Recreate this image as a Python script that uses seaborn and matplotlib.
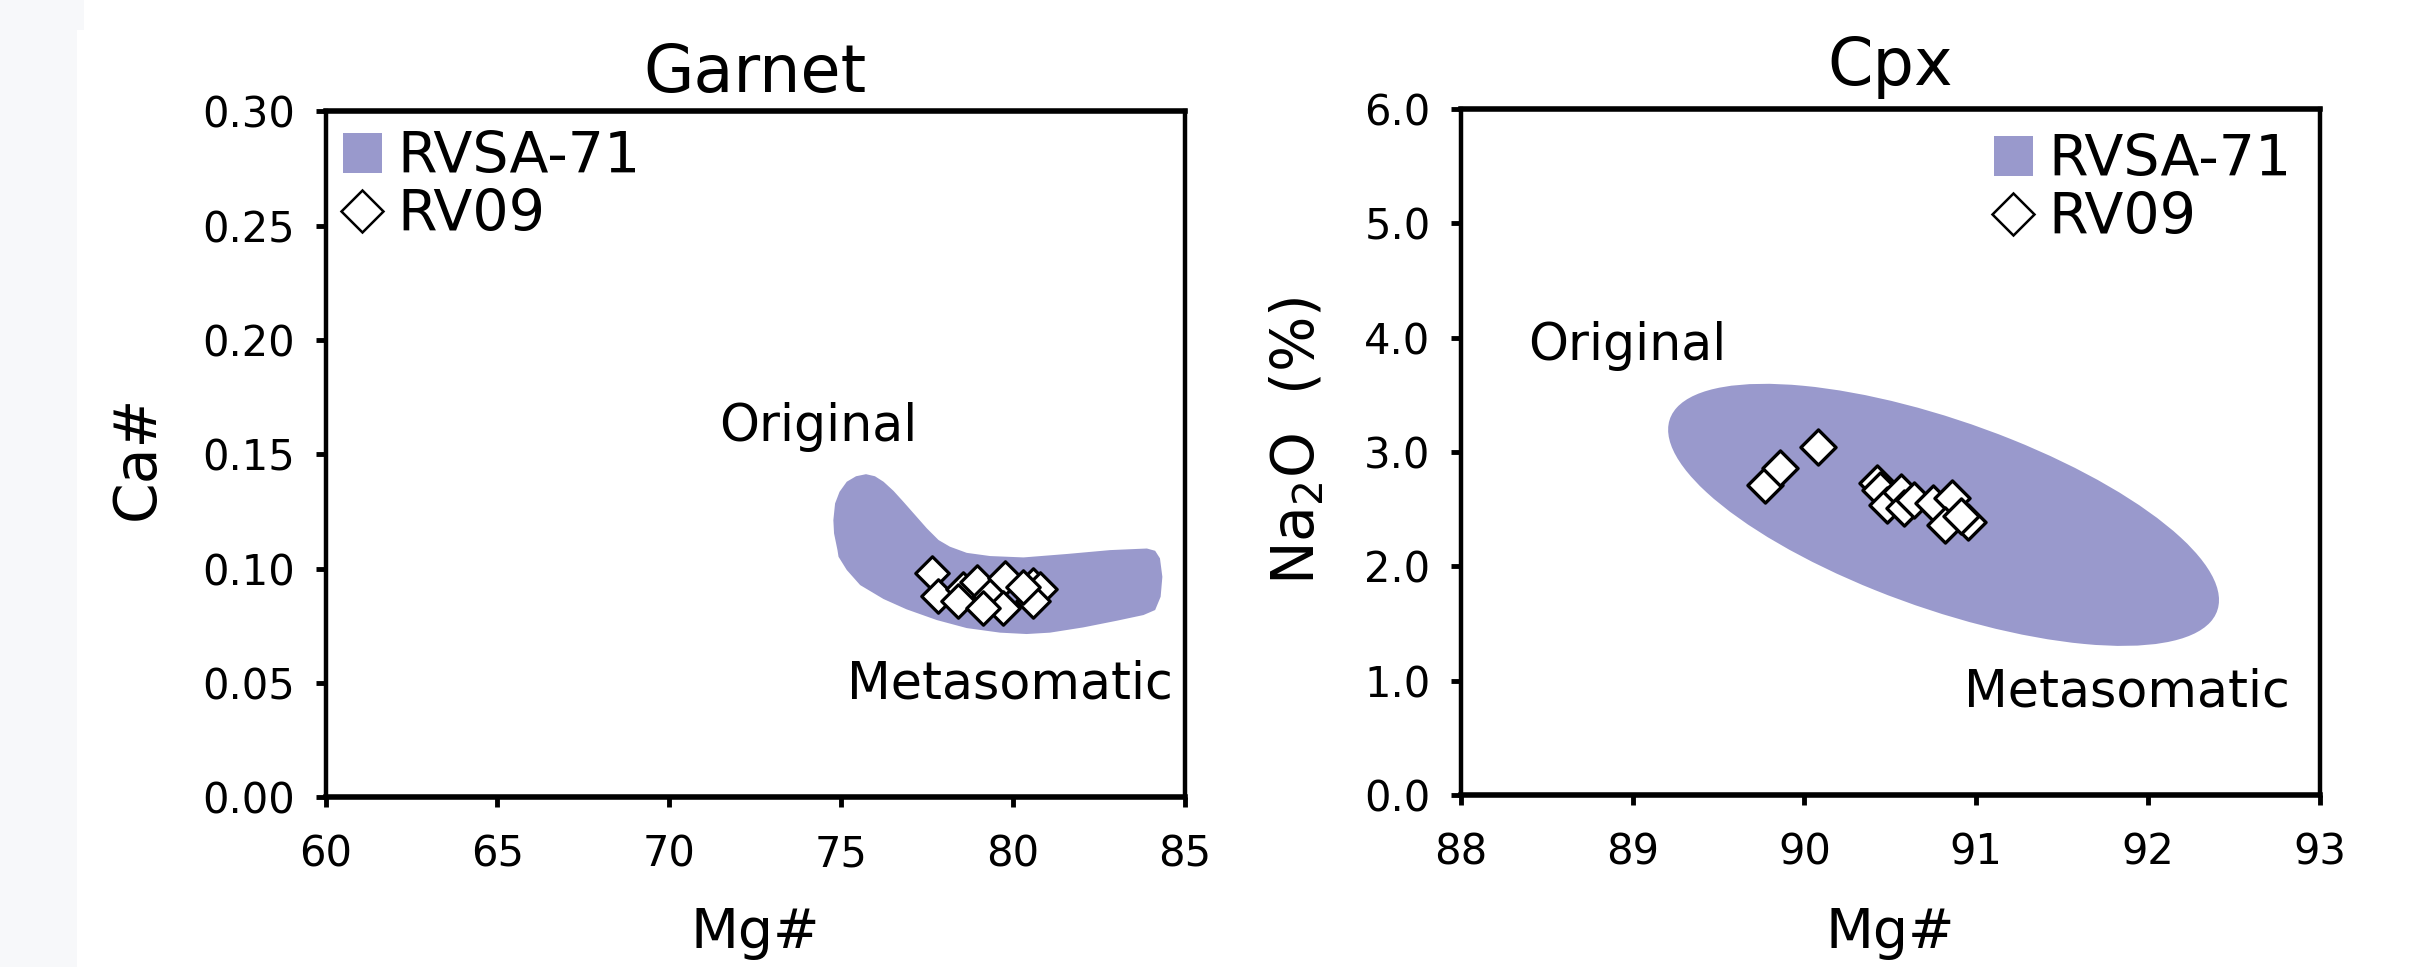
import numpy as np
import matplotlib
matplotlib.use("Agg")
import matplotlib.pyplot as plt
import seaborn as sns
from matplotlib.patches import Polygon, Ellipse, Patch, Rectangle
from matplotlib.lines import Line2D
from matplotlib.ticker import FormatStrFormatter

# ---- data ----
# Garnet: RV09 analyses
garnet_mg = [77.63, 77.82, 78.55, 78.94, 78.41, 79.33, 79.76, 79.71, 80.59, 80.78, 80.59, 79.13, 80.30]
garnet_ca = [0.098, 0.088, 0.091, 0.094, 0.086, 0.088, 0.096, 0.083, 0.093, 0.091, 0.086, 0.083, 0.092]

# Garnet: RVSA-71 field outline
garnet_field_mg = [74.89, 74.79, 74.77, 74.82, 74.95, 75.16, 75.43, 75.72, 75.98, 76.23,
                   76.52, 76.81, 77.15, 77.49, 77.83, 78.16, 78.65, 79.33, 80.30, 81.56,
                   82.82, 83.89, 84.13, 84.27, 84.34, 84.29, 84.13, 83.79, 83.01, 82.04,
                   81.07, 80.39, 79.62, 78.65, 77.78, 76.90, 76.23, 75.55, 75.16, 74.92]
garnet_field_ca = [0.1081, 0.1154, 0.1212, 0.1285, 0.1336, 0.1380, 0.1404, 0.1413, 0.1404, 0.1380,
                   0.1340, 0.1292, 0.1234, 0.1176, 0.1125, 0.1096, 0.1069, 0.1055, 0.1049, 0.1064,
                   0.1081, 0.1088, 0.1078, 0.1045, 0.0964, 0.0877, 0.0819, 0.0797, 0.0772, 0.0743,
                   0.0720, 0.0714, 0.0720, 0.0740, 0.0775, 0.0822, 0.0867, 0.0928, 0.0994, 0.1052]

# Cpx: RV09 analyses
cpx_mg = [89.77, 89.86, 90.08, 90.42, 90.44, 90.48, 90.56, 90.58, 90.64, 90.75, 90.86, 90.82, 90.95, 90.91]
cpx_na = [2.71, 2.86, 3.04, 2.73, 2.67, 2.54, 2.65, 2.51, 2.58, 2.55, 2.60, 2.36, 2.39, 2.44]

# Cpx: RVSA-71 field (ellipse: centre, width, height, angle)
cpx_field_centre = (90.81, 2.45)
cpx_field_size = (3.63, 1.54)
cpx_field_angle = -31.1

garnet_xticks = [60, 65, 70, 75, 80, 85]
garnet_yticks = [0.00, 0.05, 0.10, 0.15, 0.20, 0.25, 0.30]
cpx_xticks = [88, 89, 90, 91, 92, 93]
cpx_yticks = [0.0, 1.0, 2.0, 3.0, 4.0, 5.0, 6.0]

field_colour = "#9999cc"

# ---- style ----
sns.set_style("ticks")
plt.rcParams["font.family"] = ["DejaVu Sans"]
plt.rcParams["mathtext.fontset"] = "dejavusans"
for key in ["text.color", "axes.labelcolor", "xtick.color", "ytick.color", "axes.edgecolor"]:
    plt.rcParams[key] = "black"

fig = plt.figure(figsize=(24.17, 9.67), dpi=100)
fig.patches.append(Rectangle((0, 0), 77 / 2417, 1, transform=fig.transFigure,
                             facecolor="#f7f8fa", edgecolor="none", zorder=-5))
fig.patches.append(Rectangle((0, 1 - 30 / 967), 84 / 2417, 30 / 967, transform=fig.transFigure,
                             facecolor="#f7f8fa", edgecolor="none", zorder=-5))

ax1 = fig.add_axes([0.1347, 0.1755, 0.3556, 0.7094])
ax2 = fig.add_axes([0.6045, 0.1779, 0.3552, 0.7094])


def style_axes(ax):
    for side in ["top", "bottom"]:
        ax.spines[side].set_linewidth(4)
    for side in ["left", "right"]:
        ax.spines[side].set_linewidth(3.2)
    for s in ax.spines.values():
        s.set_visible(True)
        s.set_color("black")
    ax.tick_params(axis="x", direction="out", length=7, width=3.5, pad=19, labelsize=30, top=False)
    ax.tick_params(axis="y", direction="out", length=7, width=3.5, pad=15, labelsize=30, right=False)


# ---- Garnet ----
ax1.add_patch(Polygon(np.column_stack([garnet_field_mg, garnet_field_ca]), closed=True,
                      facecolor=field_colour, edgecolor="none", zorder=1))
sns.scatterplot(x=garnet_mg, y=garnet_ca, marker="D", s=290, color="white",
                edgecolor="black", linewidth=2.3, ax=ax1, legend=False, zorder=3)
ax1.set_xlim(60, 85)
ax1.set_ylim(0, 0.30)
ax1.set_xticks(garnet_xticks)
ax1.set_yticks(garnet_yticks)
ax1.yaxis.set_major_formatter(FormatStrFormatter("%.2f"))
style_axes(ax1)
ax1.set_title("Garnet", fontsize=47, pad=14)
ax1.set_xlabel("Mg#", fontsize=40)
ax1.xaxis.set_label_coords(0.5, -0.158)
ax1.set_ylabel("Ca#", fontsize=42, va="center")
ax1.yaxis.set_label_coords(-0.219, 0.496)
ax1.text(74.34, 0.156, "Original", fontsize=36.5, ha="center", va="baseline")
ax1.text(79.91, 0.043, "Metasomatic", fontsize=36.5, ha="center", va="baseline")

# ---- Cpx ----
ax2.add_patch(Ellipse(cpx_field_centre, cpx_field_size[0], cpx_field_size[1], angle=cpx_field_angle,
                      facecolor=field_colour, edgecolor="none", zorder=1))
sns.scatterplot(x=cpx_mg, y=cpx_na, marker="D", s=320, color="white",
                edgecolor="black", linewidth=2.4, ax=ax2, legend=False, zorder=3)
ax2.set_xlim(88, 93)
ax2.set_ylim(0, 6)
ax2.set_xticks(cpx_xticks)
ax2.set_yticks(cpx_yticks)
ax2.yaxis.set_major_formatter(FormatStrFormatter("%.1f"))
style_axes(ax2)
ax2.set_title("Cpx", fontsize=47, pad=17)
ax2.set_xlabel("Mg#", fontsize=40)
ax2.xaxis.set_label_coords(0.5, -0.162)
ax2.set_ylabel(r"Na$_2$O  (%)", fontsize=42, va="center")
ax2.yaxis.set_label_coords(-0.191, 0.516)
ax2.text(88.97, 3.805, "Original", fontsize=36.5, ha="center", va="baseline")
ax2.text(91.88, 0.77, "Metasomatic", fontsize=36.5, ha="center", va="baseline")

# ---- legends ----
handles = [Patch(facecolor=field_colour, edgecolor="none"),
           Line2D([], [], marker="D", linestyle="none", markersize=21,
                  markerfacecolor="white", markeredgecolor="black", markeredgewidth=1.8)]
labels = ["RVSA-71", "RV09"]
for ax, anchor in [(ax1, (0.0204, 0.9727)), (ax2, (0.6209, 0.965))]:
    ax.legend(handles, labels, loc="upper left", bbox_to_anchor=anchor, frameon=False,
              fontsize=41, borderpad=0, borderaxespad=0, handlelength=0.68,
              handletextpad=0.28, labelspacing=0.05)

fig.savefig("out.png", dpi=100)
